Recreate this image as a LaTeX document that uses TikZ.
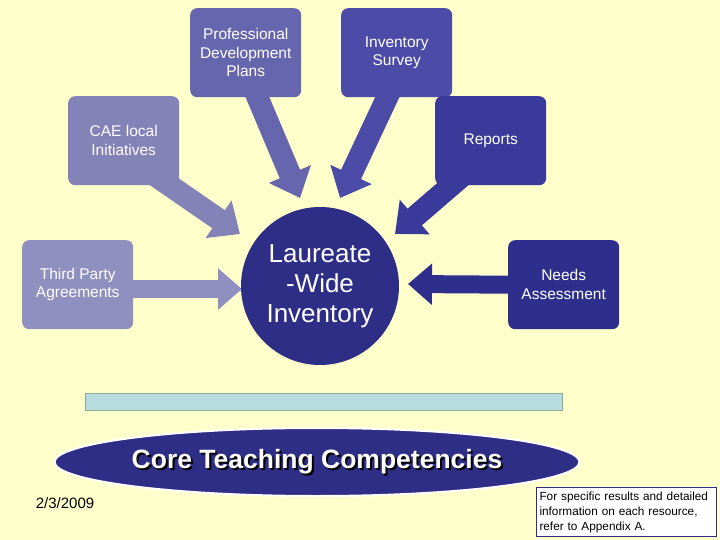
\documentclass[tikz,border=0pt]{standalone}
\usepackage{fontspec}
\setmainfont{Liberation Sans}
\usetikzlibrary{arrows.meta,shapes.geometric,shadows}
\definecolor{bg}{HTML}{FFFFCC}
\definecolor{cA}{HTML}{9090C0}
\definecolor{cB}{HTML}{8383B8}
\definecolor{cC}{HTML}{6666AE}
\definecolor{cD}{HTML}{4C4CA8}
\definecolor{cE}{HTML}{3A3A9A}
\definecolor{cF}{HTML}{2E2E8C}
\definecolor{navy}{HTML}{2E2E86}
\tikzset{
  box/.style={rounded corners=7pt,minimum width=111pt,minimum height=89pt,inner sep=0pt,align=center,text=white,font=\fontsize{15.5pt}{18.5pt}\selectfont,anchor=north west},
  barrow/.style={line width=22pt,-{Triangle[width=44pt,length=26pt]}},
}
\newcommand{\shadowtext}[1]{\makebox[0pt][l]{\hspace{2pt}\raisebox{-2pt}{\color{black}#1}}#1}
\begin{document}
\begin{tikzpicture}[x=1pt,y=-1pt]
\fill[bg] (0,0) rectangle (720,540);
\useasboundingbox (0,0) rectangle (720,540);
\coordinate (t1) at (300,198);
\coordinate (t2) at (340,198);
\coordinate (t3) at (240,234);
\coordinate (t4) at (395,234);
\coordinate (t5) at (242,289);
\coordinate (t6) at (408,284);
\coordinate (s1) at (246,70);
\coordinate (s2) at (400,70);
\coordinate (s3) at (140,165);
\coordinate (s4) at (475,165);
\draw[barrow,draw=cC,fill=cC] (s1) -- (t1);
\draw[barrow,draw=cD,fill=cD] (s2) -- (t2);
\draw[barrow,draw=cB,fill=cB] (s3) -- (t3);
\draw[barrow,draw=cE,fill=cE] (s4) -- (t4);
\node[box,fill=cC] (pdp) at (190,8) {Professional\\Development\\Plans};
\node[box,fill=cD] (inv) at (341,8) {Inventory\\Survey};
\node[box,fill=cB] (cae) at (68,96) {CAE local\\Initiatives};
\node[box,fill=cE] (rep) at (435,96) {Reports};
\node[box,fill=cA] (tpa) at (22,240) {Third Party\\Agreements};
\node[box,fill=cF] (nds) at (508,240) {Needs\\Assessment};
\draw[line width=18pt,draw=cA,-{Triangle[width=40pt,length=24pt]}] (tpa.east|-t5) -- (t5);
\draw[line width=18pt,draw=cF,-{Triangle[width=40pt,length=24pt]}] (nds.west) -- (t6);
\node[circle,fill=navy,minimum size=158pt,inner sep=0pt,align=center,text=white,font=\fontsize{26pt}{30pt}\selectfont] (lwi) at (320,286) {Laureate\\-Wide\\Inventory};
\node[draw={rgb,255:red,140;green,170;blue,150},line width=1pt,fill={rgb,255:red,184;green,221;blue,224},minimum width=477pt,minimum height=17pt,inner sep=0pt,anchor=north west] (bar) at (85,393) {};
\node[ellipse,fill=navy,draw=white,line width=2pt,minimum width=525pt,minimum height=68pt,inner sep=0pt] (ctc) at (317,462) {};
\node[text=white,font=\bfseries\fontsize{26.5pt}{30pt}\selectfont] (ctct) at (317,463) {\shadowtext{Core Teaching Competencies}};
\node[font=\fontsize{15pt}{17pt}\selectfont] (date) at (65,503) {2/3/2009};
\node[draw=navy,line width=1pt,fill=white,anchor=north west,minimum width=180pt,minimum height=49pt,inner sep=3pt,align=left,text width=174pt,font=\fontsize{11.8pt}{15pt}\selectfont] (note) at (536,487) {For specific results and detailed\\information on each resource,\\refer to Appendix A.};
\end{tikzpicture}
\end{document}
